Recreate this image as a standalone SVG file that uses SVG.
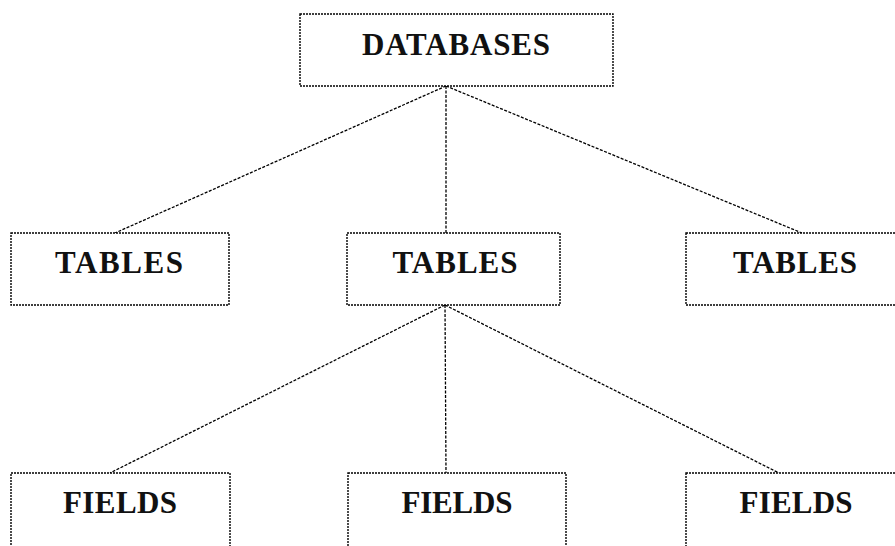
<svg xmlns="http://www.w3.org/2000/svg" width="895" height="546" viewBox="0 0 895 546">
<style>
.box{fill:#fff;stroke:#000;stroke-width:1.4;stroke-dasharray:2 1}
.ln{stroke:#000;stroke-width:1.3;stroke-dasharray:3 1.5;fill:none}
.t{font-family:"Liberation Serif","Times New Roman",serif;font-weight:bold;font-size:31px;fill:#111;text-anchor:middle}
</style>
<rect width="895" height="546" fill="#fff"/>
<g id="connectors">
<line class="ln" x1="446" y1="86" x2="115" y2="233"/>
<line class="ln" x1="446" y1="86" x2="446" y2="233"/>
<line class="ln" x1="446" y1="86" x2="802" y2="233"/>
<line class="ln" x1="445" y1="305" x2="110" y2="473"/>
<line class="ln" x1="445" y1="305" x2="446" y2="473"/>
<line class="ln" x1="445" y1="305" x2="779" y2="473"/>
</g>
<g id="databases">
<rect class="box" x="300" y="14" width="313" height="72"/>
<text class="t" x="456" y="55" textLength="188" lengthAdjust="spacing">DATABASES</text>
</g>
<g id="tables-left">
<rect class="box" x="11" y="233" width="218" height="72"/>
<text class="t" x="119" y="273" textLength="128" lengthAdjust="spacing">TABLES</text>
</g>
<g id="tables-center">
<rect class="box" x="347" y="233" width="213" height="72"/>
<text class="t" x="455" y="273" textLength="125" lengthAdjust="spacing">TABLES</text>
</g>
<g id="tables-right">
<rect class="box" x="686" y="233" width="220" height="72"/>
<text class="t" x="795" y="273" textLength="124" lengthAdjust="spacing">TABLES</text>
</g>
<g id="fields-left">
<rect class="box" x="11" y="473" width="219" height="90"/>
<text class="t" x="120" y="513" textLength="114" lengthAdjust="spacing">FIELDS</text>
</g>
<g id="fields-center">
<rect class="box" x="348" y="473" width="218" height="90"/>
<text class="t" x="457" y="513" textLength="111" lengthAdjust="spacing">FIELDS</text>
</g>
<g id="fields-right">
<rect class="box" x="686" y="473" width="220" height="90"/>
<text class="t" x="796" y="513" textLength="113" lengthAdjust="spacing">FIELDS</text>
</g>
</svg>
